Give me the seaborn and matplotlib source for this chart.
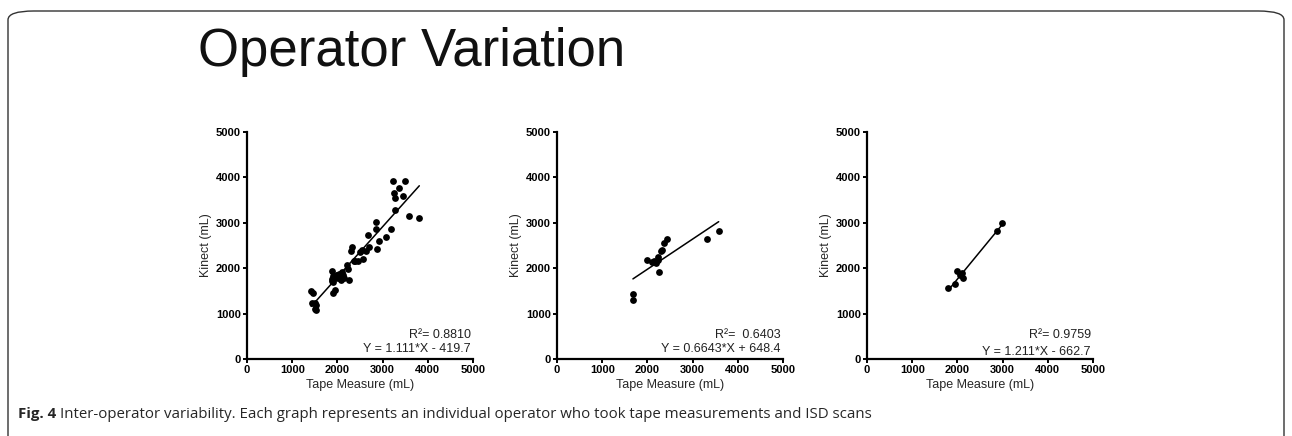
import numpy as np
import pandas as pd
import matplotlib
matplotlib.use("Agg")
import matplotlib.pyplot as plt
from matplotlib.patches import FancyBboxPatch
import seaborn as sns

# operator 1
op1_tape = [1420, 1470, 1440, 1530, 1500, 1530, 1510, 1870, 1910, 1870, 1910, 1950,
            1990, 2030, 2060, 2095, 2120, 2150, 2205, 2242, 2264, 1947, 1910, 1984,
            2020, 2058, 2070, 1874, 2294, 2316, 2360, 2389, 2463, 2500, 2537, 2574,
            2640, 2684, 2706, 2847, 2854, 2883, 2914, 3075, 3186, 3223, 3246, 3274,
            3274, 3363, 3458, 3489, 3584, 3812]
op1_kinect = [1500, 1450, 1230, 1190, 1100, 1080, 1240, 1930, 1830, 1710, 1703, 1780,
              1850, 1880, 1800, 1923, 1850, 1780, 2070, 1976, 1740, 1520, 1450, 1850,
              1780, 1850, 1740, 1757, 2385, 2460, 2150, 2165, 2165, 2350, 2401, 2196,
              2370, 2731, 2460, 3025, 2857, 2416, 2606, 2694, 2857, 3927, 3663, 3539,
              3282, 3773, 3597, 3927, 3150, 3099]

# operator 2
op2_tape = [1680, 1680, 1998, 2095, 2150, 2190, 2230, 2241, 2294, 2320, 2367, 2427,
            2263, 3325, 3577]
op2_kinect = [1430, 1290, 2181, 2143, 2150, 2121, 2180, 2253, 2385, 2400, 2548, 2643,
              1910, 2636, 2812]

# operator 3
op3_tape = [1799, 1947, 1998, 2050, 2095, 2117, 2869, 2980]
op3_kinect = [1557, 1652, 1945, 1850, 1901, 1791, 2819, 2989]

slopes = [1.111, 0.6643, 1.211]
intercepts = [-419.7, 648.4, -662.7]
r2_labels = ["R\u00b2= 0.8810", "R\u00b2=  0.6403", "R\u00b2= 0.9759"]
eq_labels = ["Y = 1.111*X - 419.7", "Y = 0.6643*X + 648.4", "Y = 1.211*X - 662.7"]
ticks = [0, 1000, 2000, 3000, 4000, 5000]

sns.set_style("ticks")
plt.rcParams['font.family'] = ['Liberation Sans', 'DejaVu Sans']

W, H = 1292, 436
fig = plt.figure(figsize=(W / 100, H / 100), dpi=100)

# rounded frame round the figure panel
frame = FancyBboxPatch((8 / W, -0.1), 1276 / W, 1.1 - 11 / H,
                       boxstyle="round,pad=0,rounding_size=0.02",
                       transform=fig.transFigure, fill=False,
                       edgecolor="#333333", linewidth=1.0, mutation_aspect=H / W * 3)
fig.patches.append(frame)

fig.text(198 / W, 1 - 66 / H, "Operator Variation", fontsize=38,
         ha="left", va="baseline", color="#111111")

datasets = [(op1_tape, op1_kinect), (op2_tape, op2_kinect), (op3_tape, op3_kinect)]
lefts = [247, 557, 867]
eq_y = [0.031, 0.031, 0.018]

for i, (tx, ky) in enumerate(datasets):
    ax = fig.add_axes([lefts[i] / W, 77 / H, 226 / W, 227 / H])
    df = pd.DataFrame({"Tape Measure (mL)": tx, "Kinect (mL)": ky})
    sns.scatterplot(data=df, x="Tape Measure (mL)", y="Kinect (mL)", ax=ax,
                    color="black", s=24, edgecolor="black", linewidth=0, zorder=3)
    xs = np.array([min(tx), max(tx)])
    fit = pd.DataFrame({"x": xs, "y": slopes[i] * xs + intercepts[i]})
    sns.lineplot(data=fit, x="x", y="y", ax=ax, color="black", linewidth=1.1)
    ax.set_xlim(0, 5000)
    ax.set_ylim(0, 5000)
    ax.set_xticks(ticks)
    ax.set_yticks(ticks)
    ax.set_xlabel("Tape Measure (mL)", fontsize=9, labelpad=3)
    ax.set_ylabel("Kinect (mL)", fontsize=9, labelpad=3)
    ax.tick_params(labelsize=8, length=3, width=1.4, pad=1.5, colors="black")
    for lab in ax.get_xticklabels() + ax.get_yticklabels():
        lab.set_fontweight("bold")
    sns.despine(ax=ax)
    for side in ["left", "bottom"]:
        ax.spines[side].set_linewidth(1.6)
        ax.spines[side].set_color("black")
    ax.text(0.99, 0.0925, r2_labels[i], transform=ax.transAxes, ha="right",
            va="baseline", fontsize=9, color="#222222")
    ax.text(0.99, eq_y[i], eq_labels[i], transform=ax.transAxes, ha="right",
            va="baseline", fontsize=9, color="#222222")

# caption: bold "Fig. 4" then plain text
cap_y = 1 - 418 / H
t1 = fig.text(18 / W, cap_y, "Fig. 4", fontsize=10.8, fontweight="bold",
              family=["Open Sans"], va="baseline")
fig.canvas.draw()
bb = t1.get_window_extent()
fig.text(bb.x1 / W + 4 / W, cap_y,
         "Inter-operator variability. Each graph represents an individual operator who took tape measurements and ISD scans",
         fontsize=10.8, family=["Open Sans"], va="baseline")

fig.savefig("out.png", dpi=100)
